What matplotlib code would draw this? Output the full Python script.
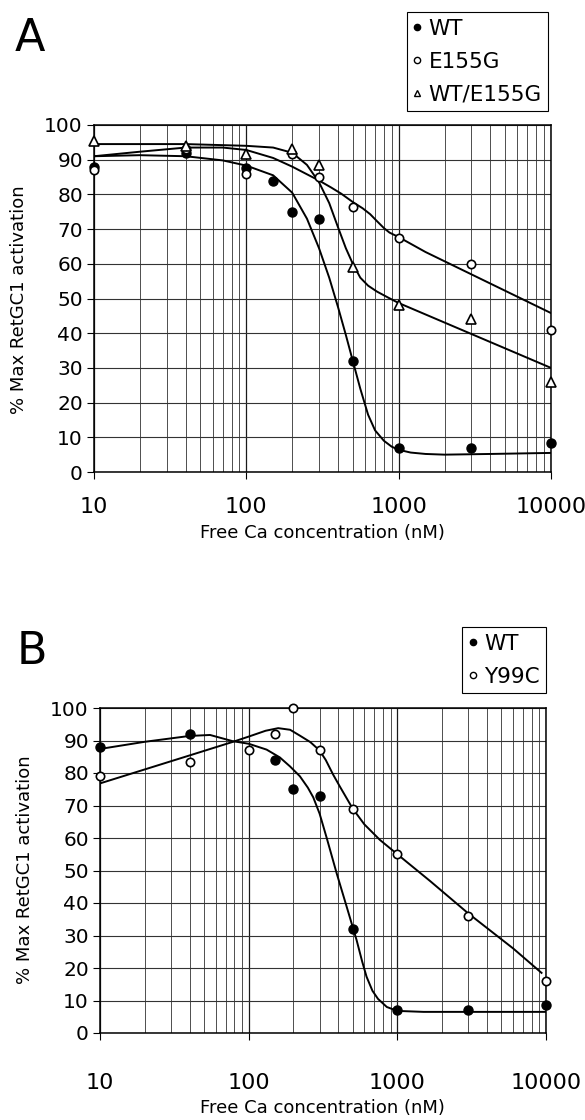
import numpy as np
import matplotlib
matplotlib.use('Agg')
import matplotlib.pyplot as plt
from matplotlib.lines import Line2D

# ---------------- data ----------------
ca_A = [10, 40, 100, 150, 200, 300, 500, 1000, 3000, 10000]
wt_A = [88, 92, 87.5, 84, 75, 73, 32, 7, 7, 8.5]

ca_mut_A = [10, 40, 100, 200, 300, 500, 1000, 3000, 10000]
e155g_A = [87, 93, 86, 91.5, 85, 76.5, 67.5, 60, 41]
wte155g_A = [95.5, 94, 91.5, 93, 88.5, 59, 48, 44, 26]

# fitted curves (traced by eye)
fit_wt_A_x = [10, 20, 40, 70, 100, 150, 200, 250, 300, 350, 400, 450, 500, 560, 630, 700, 800, 900, 1000, 1200, 1500, 2000, 4000, 10000]
fit_wt_A_y = [91, 91.3, 91, 89.8, 88.3, 85.5, 80.5, 73, 64.5, 56, 47.5, 39.5, 32, 24, 16.5, 12, 9, 7.3, 6.4, 5.6, 5.2, 5.0, 5.2, 5.5]
fit_e_A_x = [10, 20, 40, 70, 100, 150, 200, 300, 360, 420, 500, 580, 650, 720, 800, 870, 1000, 1500, 10000]
fit_e_A_y = [91, 92.3, 93.5, 93.5, 92.8, 90.5, 88, 84, 82, 80.2, 77.8, 76, 74.3, 72.3, 70.3, 69, 67.7, 63.4, 45.8]
fit_we_A_x = [10, 40, 100, 150, 200, 250, 300, 350, 400, 450, 500, 560, 630, 720, 850, 1000, 10000]
fit_we_A_y = [94.5, 94.5, 94, 93.5, 92, 88.5, 83.5, 77.5, 70.5, 64.5, 60, 56, 53.7, 52, 50.3, 48.7, 30]

ca_B = [10, 40, 150, 200, 300, 500, 1000, 3000, 10000]
wt_B = [88, 92, 84, 75, 73, 32, 7, 7, 8.5]
ca_y_B = [10, 40, 100, 150, 200, 300, 500, 1000, 3000, 10000]
y99c_B = [79, 83.5, 87, 92, 100, 87, 69, 55, 36, 16]

fit_wt_B_x = [10, 20, 40, 55, 78, 100, 132, 162, 190, 221, 250, 272, 300, 335, 391, 456, 532, 580, 621, 680, 741, 850, 1000, 1500, 10000]
fit_wt_B_y = [87.4, 89.6, 91.4, 91.7, 89.8, 89, 87.2, 84.8, 82, 79, 75.5, 72.5, 67.5, 60, 49.1, 38.9, 28.6, 22, 17.3, 13, 10.5, 8, 6.8, 6.5, 6.5]
fit_y_B_x = [10, 20, 40, 78.5, 100, 130, 158, 190, 221, 260, 299, 330, 370, 411, 500, 600, 764, 1000, 1657, 3000, 6020, 9330]
fit_y_B_y = [76.8, 81.1, 85.4, 89.6, 91.2, 93, 93.8, 93.3, 91.5, 89.5, 87, 84, 79.5, 75.8, 69.1, 64.2, 59.4, 55, 46.8, 36.8, 26, 18.5]

yticks = list(range(0, 101, 10))
xticks = [10, 100, 1000, 10000]
xticklabels = ['10', '100', '1000', '10000']

W, H = 585.0, 1120.0
plt.rcParams['font.family'] = ['DejaVu Sans']

fig = plt.figure(figsize=(W / 100, H / 100), dpi=100)


def px_axes(x0, y0, x1, y1):
    return fig.add_axes([x0 / W, 1 - y1 / H, (x1 - x0) / W, (y1 - y0) / H])


def setup(ax, xpad):
    ax.set_xscale('log')
    ax.set_xlim(10, 10000)
    ax.set_ylim(0, 100)
    minors = [m * 10 ** d for d in range(1, 4) for m in range(2, 10)]
    for v in minors:
        ax.axvline(v, color='0.3', lw=0.7, zorder=0)
    for v in xticks:
        ax.axvline(v, color='0.1', lw=0.9, zorder=0)
    for v in yticks:
        ax.axhline(v, color='0.2', lw=0.8, zorder=0)
    ax.set_yticks(yticks)
    ax.set_xticks(xticks)
    ax.set_xticklabels(xticklabels)
    ax.xaxis.set_minor_locator(matplotlib.ticker.NullLocator())
    ax.tick_params(axis='y', direction='out', length=5, width=0.8, labelsize=14.5, pad=3)
    ax.tick_params(axis='x', direction='out', length=5, width=0.8, labelsize=16, pad=xpad)
    for s in ax.spines.values():
        s.set_linewidth(1.1)
        s.set_color('black')


def legend(handles, labels, right, bottom, top):
    lg = fig.legend(handles, labels, loc='lower right',
                    bbox_to_anchor=(right / W, 1 - bottom / H), fontsize=15.5, frameon=True,
                    fancybox=False, edgecolor='black', framealpha=1, handlelength=0.35,
                    handletextpad=0.35, borderpad=0.3, labelspacing=0.6, borderaxespad=0)
    lg.get_frame().set_linewidth(0.8)
    return lg


# ---------------- panel A ----------------
axA = px_axes(94, 125, 551, 472)
setup(axA, 13)
axA.plot(fit_wt_A_x, fit_wt_A_y, color='black', lw=1.4, zorder=2)
axA.plot(fit_e_A_x, fit_e_A_y, color='black', lw=1.4, zorder=2)
axA.plot(fit_we_A_x, fit_we_A_y, color='black', lw=1.4, zorder=2)
axA.plot(ca_A, wt_A, 'o', color='black', ms=6.5, zorder=4, clip_on=False)
axA.plot(ca_mut_A, e155g_A, 'o', mfc='white', mec='black', mew=1.2, ms=6, zorder=4, clip_on=False)
axA.plot(ca_mut_A, wte155g_A, '^', mfc='white', mec='black', mew=1.2, ms=6.5, zorder=4, clip_on=False)

hA = [Line2D([], [], ls='none', marker='o', color='black', ms=4.5),
      Line2D([], [], ls='none', marker='o', mfc='white', mec='black', mew=1, ms=4.5),
      Line2D([], [], ls='none', marker='^', mfc='white', mec='black', mew=1, ms=5)]
legend(hA, ['WT', 'E155G', 'WT/E155G'], 548, 111, 8)

fig.text(15 / W, 1 - 17 / H, 'A', fontsize=32, va='top', ha='left')
fig.text(322 / W, 1 - 533 / H, 'Free Ca concentration (nM)', fontsize=13, ha='center', va='center')
fig.text(19 / W, 1 - 300 / H, '% Max RetGC1 activation', fontsize=13, ha='center', va='center', rotation=90)

# ---------------- panel B ----------------
axB = px_axes(100, 708, 546, 1033)
setup(axB, 24)
axB.plot(fit_wt_B_x, fit_wt_B_y, color='black', lw=1.4, zorder=2)
axB.plot(fit_y_B_x, fit_y_B_y, color='black', lw=1.4, zorder=2)
axB.plot(ca_B, wt_B, 'o', color='black', ms=6.5, zorder=4, clip_on=False)
axB.plot(ca_y_B, y99c_B, 'o', mfc='white', mec='black', mew=1.2, ms=6, zorder=4, clip_on=False)

hB = [Line2D([], [], ls='none', marker='o', color='black', ms=4.5),
      Line2D([], [], ls='none', marker='o', mfc='white', mec='black', mew=1, ms=4.5)]
legend(hB, ['WT', 'Y99C'], 546, 693, 623)

fig.text(17 / W, 1 - 630 / H, 'B', fontsize=32, va='top', ha='left')
fig.text(322 / W, 1 - 1108 / H, 'Free Ca concentration (nM)', fontsize=13, ha='center', va='center')
fig.text(25 / W, 1 - 870 / H, '% Max RetGC1 activation', fontsize=13, ha='center', va='center', rotation=90)

fig.savefig('out.png', dpi=100)
